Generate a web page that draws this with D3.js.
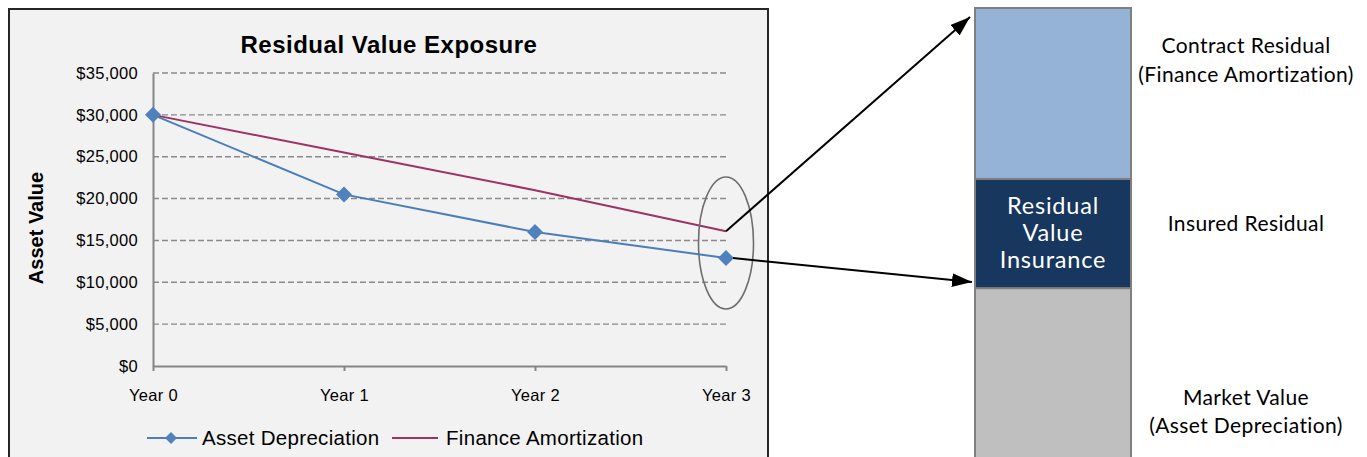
<!DOCTYPE html>
<html>
<head>
<meta charset="utf-8">
<script src="https://cdn.jsdelivr.net/npm/d3@7"></script>
<style>
  html, body { margin: 0; padding: 0; background: #ffffff; }
  svg { display: block; }
</style>
</head>
<body>
<svg id="chart" width="1367" height="457"></svg>
<script>
// ---------------- data ----------------
const years = ["Year 0", "Year 1", "Year 2", "Year 3"];
const assetDepreciation = [30000, 20500, 16000, 12900];
const financeAmortization = [30000, 25500, 21000, 16100];
const yTicks = [0, 5000, 10000, 15000, 20000, 25000, 30000, 35000];
const chartTitle = "Residual Value Exposure";
const yAxisTitle = "Asset Value";
const seriesNames = ["Asset Depreciation", "Finance Amortization"];

// conceptual stacked bar (bottom to top)
const stackNames = ["Market Value", "Insured Residual", "Contract Residual"];
const stackShares = [5.0, 3.0, 4.7];
const stackInner = [[], ["Residual", "Value", "Insurance"], []];
const stackSideLabels = [["Market Value", "(Asset Depreciation)"], ["Insured Residual"], ["Contract Residual", "(Finance Amortization)"]];

// ---------------- drawing ----------------
const svg = d3.select("#chart");
const ARIAL = "'Liberation Sans', Arial, sans-serif";
const SIDE = "Lato, 'Open Sans', sans-serif";
const blue = "#4a7ebb", blueMarker = "#4f81bd", maroon = "#9e3263";

// chart frame
svg.append("rect").attr("x", 9).attr("y", 9).attr("width", 759).attr("height", 470)
  .attr("fill", "#f2f2f2").attr("stroke", "#262626").attr("stroke-width", 2);

const x = d3.scalePoint().domain(years).range([153, 726]);
const y = d3.scaleLinear().domain([0, 35000]).range([366, 73]);

// gridlines
svg.append("g").selectAll("line").data(yTicks.filter(d => d > 0)).join("line")
  .attr("x1", x(years[0])).attr("x2", x(years[years.length - 1]))
  .attr("y1", d => y(d)).attr("y2", d => y(d))
  .attr("stroke", "#8a8a8a").attr("stroke-width", 1.4).attr("stroke-dasharray", "6,3");

// y axis
const yAxis = d3.axisLeft(y).tickValues(yTicks).tickSize(0).tickPadding(15)
  .tickFormat(d => "$" + d3.format(",")(d));
const gy = svg.append("g").attr("transform", `translate(${x(years[0])},0)`).call(yAxis);
gy.select(".domain").attr("stroke", "#868686").attr("stroke-width", 2);
gy.selectAll("text").attr("font-family", ARIAL).attr("font-size", 16.5)
  .attr("letter-spacing", 0.3).attr("fill", "#000");

// x axis
const xAxis = d3.axisBottom(x).tickSize(5).tickPadding(18).tickSizeOuter(0);
const gx = svg.append("g").attr("transform", `translate(0,${y(0)})`).call(xAxis);
gx.select(".domain").attr("stroke", "#868686").attr("stroke-width", 2);
gx.selectAll(".tick line").attr("stroke", "#868686").attr("stroke-width", 2);
gx.selectAll("text").attr("font-family", ARIAL).attr("font-size", 16.5)
  .attr("letter-spacing", 0.3).attr("fill", "#000");

// title
svg.append("text").attr("x", 389).attr("y", 53).attr("text-anchor", "middle")
  .attr("font-family", ARIAL).attr("font-weight", "bold").attr("font-size", 24)
  .attr("letter-spacing", 0.5).text(chartTitle);

// y axis title
svg.append("text").attr("transform", "translate(43,228) rotate(-90)")
  .attr("text-anchor", "middle").attr("font-family", ARIAL).attr("font-weight", "bold")
  .attr("font-size", 20).text(yAxisTitle);

// lines
const line = d3.line().x((d, i) => x(years[i])).y(d => y(d));
svg.append("path").datum(financeAmortization).attr("d", line)
  .attr("fill", "none").attr("stroke", maroon).attr("stroke-width", 2);
svg.append("path").datum(assetDepreciation).attr("d", line)
  .attr("fill", "none").attr("stroke", blue).attr("stroke-width", 2);

const diamond = r => `M0,${-r}L${r},0L0,${r}L${-r},0Z`;
svg.append("g").selectAll("path").data(assetDepreciation).join("path")
  .attr("transform", (d, i) => `translate(${x(years[i])},${y(d)})`)
  .attr("d", diamond(8)).attr("fill", blueMarker);

// legend
const lg = svg.append("g").attr("font-family", ARIAL).attr("font-size", 20.5).attr("letter-spacing", 0.3);
lg.append("line").attr("x1", 147).attr("x2", 197).attr("y1", 438).attr("y2", 438)
  .attr("stroke", blue).attr("stroke-width", 2);
lg.append("path").attr("transform", "translate(171,438)").attr("d", diamond(6)).attr("fill", blueMarker);
lg.append("text").attr("x", 202).attr("y", 445).text(seriesNames[0]);
lg.append("line").attr("x1", 392).attr("x2", 438).attr("y1", 438).attr("y2", 438)
  .attr("stroke", maroon).attr("stroke-width", 2);
lg.append("text").attr("x", 446).attr("y", 445).text(seriesNames[1]);

// ellipse around year 3
const last = years.length - 1;
svg.append("ellipse").attr("cx", x(years[last])).attr("cy", 243).attr("rx", 27.5).attr("ry", 66)
  .attr("fill", "none").attr("stroke", "#6e6e6e").attr("stroke-width", 1.6);

// stacked bar
const barX0 = 975, barX1 = 1131;
const total = d3.sum(stackShares);
const s = d3.scaleLinear().domain([0, total]).range([470, 8]);
const cum = d3.cumsum(stackShares);
const segs = stackShares.map((v, i) => ({ name: stackNames[i], lo: cum[i] - v, hi: cum[i], i }));
const fills = ["#bfbfbf", "#17375e", "#95b3d7"];
svg.append("g").selectAll("rect").data(segs).join("rect")
  .attr("x", barX0).attr("width", barX1 - barX0)
  .attr("y", d => s(d.hi)).attr("height", d => s(d.lo) - s(d.hi))
  .attr("fill", (d, i) => fills[i]).attr("stroke", "#7f7f7f").attr("stroke-width", 2);

// inner text
segs.forEach(d => {
  const lines = stackInner[d.i];
  if (!lines.length) return;
  const cy = (s(d.lo) + s(d.hi)) / 2;
  const lh = 26.7;
  lines.forEach((t, k) => {
    svg.append("text").attr("x", (barX0 + barX1) / 2)
      .attr("y", cy + (k - (lines.length - 1) / 2) * lh + 7.5)
      .attr("text-anchor", "middle").attr("font-family", SIDE).attr("font-size", 23.5)
      .attr("letter-spacing", 0.8).attr("fill", "#ffffff").text(t);
  });
});

// side labels
const sideY = [[405, 433], [231], [53, 82]];
segs.forEach(d => {
  stackSideLabels[d.i].forEach((t, k) => {
    svg.append("text").attr("x", 1246).attr("y", sideY[d.i][k])
      .attr("text-anchor", "middle").attr("font-family", SIDE).attr("font-size", 21)
      .attr("letter-spacing", 0.4).attr("fill", "#000").text(t);
  });
});

// arrows
const defs = svg.append("defs");
defs.append("marker").attr("id", "arrow").attr("markerUnits", "userSpaceOnUse")
  .attr("viewBox", "0 0 20 14").attr("refX", 20).attr("refY", 7)
  .attr("markerWidth", 20).attr("markerHeight", 14).attr("orient", "auto")
  .append("path").attr("d", "M0,0L20,7L0,14Z").attr("fill", "#000");

const topSeg = segs[2], midSeg = segs[1];
svg.append("line")
  .attr("x1", x(years[last])).attr("y1", y(financeAmortization[last]))
  .attr("x2", barX0 - 5).attr("y2", s(topSeg.hi) + 9)
  .attr("stroke", "#000").attr("stroke-width", 2).attr("marker-end", "url(#arrow)");
svg.append("line")
  .attr("x1", x(years[last]) + 7).attr("y1", y(assetDepreciation[last]))
  .attr("x2", barX0 - 3).attr("y2", s(midSeg.lo) - 6)
  .attr("stroke", "#000").attr("stroke-width", 2).attr("marker-end", "url(#arrow)");
</script>
</body>
</html>
